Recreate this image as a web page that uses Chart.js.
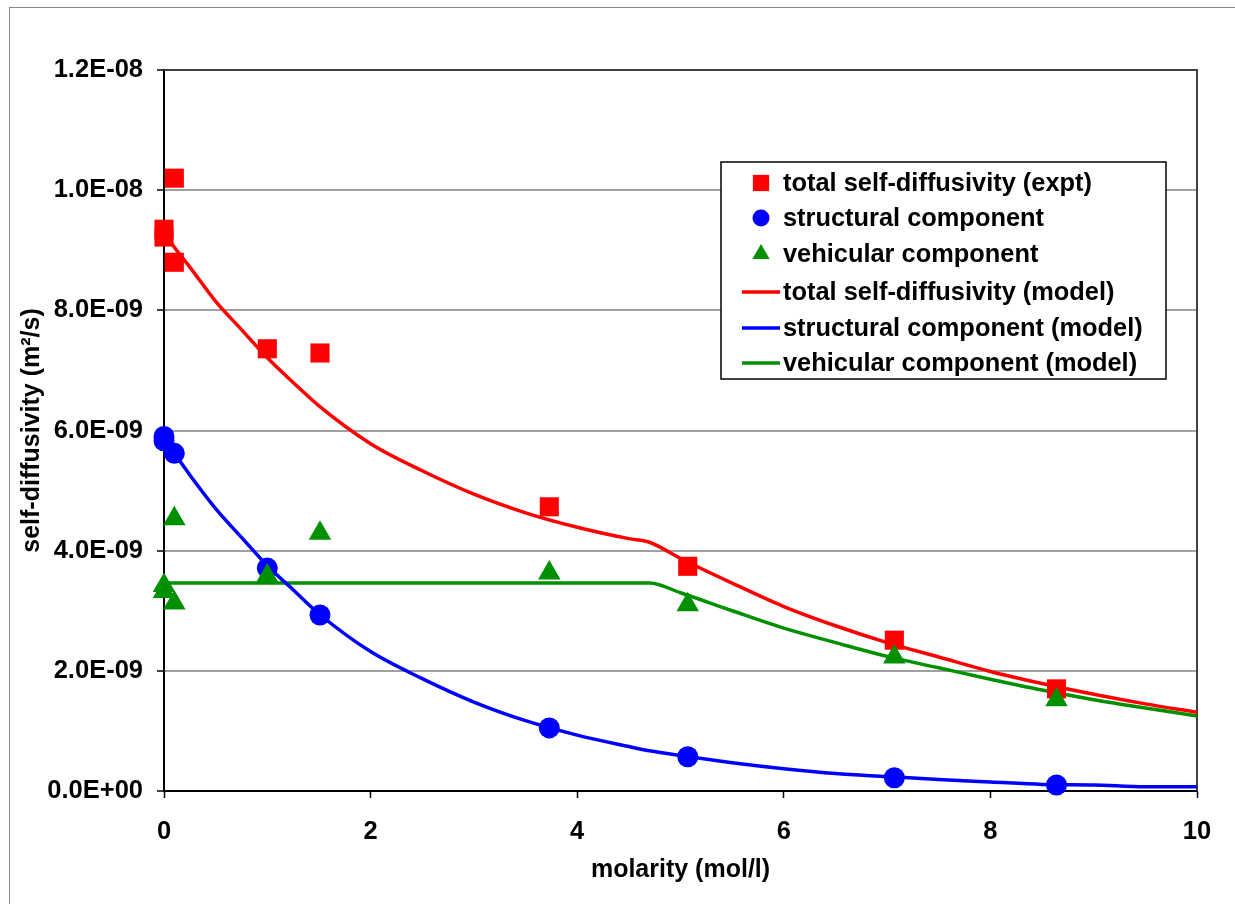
<!DOCTYPE html>
<html>
<head>
<meta charset="utf-8">
<title>self-diffusivity vs molarity</title>
<script src="https://cdn.jsdelivr.net/npm/chart.js@4.4.1/dist/chart.umd.min.js"></script>
<style>
  html, body { margin: 0; padding: 0; background: #fff; }
  canvas { display: block; }
</style>
</head>
<body>
<canvas id="myChart" width="1235" height="904"></canvas>
<script>
// experimental points, molarity in mol/l, diffusivity in m2/s
let totalX = [0, 0, 0.1, 0.1, 1.0, 1.51, 3.73, 5.07, 7.07, 8.64];
let totalY = [9.35e-9, 9.22e-9, 10.2e-9, 8.8e-9, 7.36e-9, 7.29e-9, 4.73e-9, 3.74e-9, 2.51e-9, 1.70e-9];

let structX = [0, 0, 0.1, 1.0, 1.51, 3.73, 5.07, 7.07, 8.64];
let structY = [5.90e-9, 5.83e-9, 5.62e-9, 3.71e-9, 2.93e-9, 1.05e-9, 0.57e-9, 0.22e-9, 0.10e-9];

let vehX = [0, 0, 0.1, 0.1, 1.0, 1.51, 3.73, 5.07, 7.07, 8.64];
let vehY = [3.42e-9, 3.32e-9, 4.53e-9, 3.13e-9, 3.58e-9, 4.29e-9, 3.63e-9, 3.10e-9, 2.23e-9, 1.52e-9];

// model curves (values in 1E-09 m2/s)
let modelX = [0, 0.1, 0.25, 0.5, 0.75, 1, 1.25, 1.5, 2, 2.5, 3, 3.5, 4, 4.5, 4.7, 5, 5.5, 6, 6.5, 7, 7.5, 8, 8.5, 9, 9.5, 10];
let totalModel = [9.3, 9.05, 8.72, 8.15, 7.68, 7.21, 6.8, 6.41, 5.78, 5.33, 4.94, 4.63, 4.39, 4.2, 4.14, 3.87, 3.46, 3.07, 2.75, 2.47, 2.23, 1.99, 1.79, 1.61, 1.45, 1.31];
let structModel = [5.86, 5.62, 5.26, 4.7, 4.22, 3.75, 3.35, 2.95, 2.32, 1.87, 1.48, 1.17, 0.93, 0.74, 0.67, 0.59, 0.47, 0.37, 0.29, 0.24, 0.19, 0.15, 0.11, 0.10, 0.07, 0.07];
let vehModel = [3.46, 3.46, 3.46, 3.46, 3.46, 3.46, 3.46, 3.46, 3.46, 3.46, 3.46, 3.46, 3.46, 3.46, 3.46, 3.3, 3.0, 2.71, 2.47, 2.24, 2.05, 1.86, 1.68, 1.52, 1.38, 1.25];

let xTicks = [0, 2, 4, 6, 8, 10];
let yMax = 1.2e-8, yStep = 2e-9;

let legendLabels = ['total self-diffusivity (expt)', 'structural component', 'vehicular component',
  'total self-diffusivity (model)', 'structural component (model)', 'vehicular component (model)'];

const RED = '#ff0000', BLUE = '#0000ff', GREEN = '#009000';
const FONT = '"Liberation Sans", Arial, sans-serif';

function pts(xs, ys, scale) {
  return xs.map((x, i) => ({ x: x, y: ys[i] * (scale || 1) }));
}

function fmtE(v) {
  let parts = Number(v).toExponential(1).split('e');
  let n = parseInt(parts[1], 10);
  return parts[0] + 'E' + (n < 0 ? '-' : '+') + String(Math.abs(n)).padStart(2, '0');
}

function drawMarker(ctx, style, x, y, r, color) {
  ctx.fillStyle = color;
  ctx.beginPath();
  if (style === 'rect') {
    let s = r * Math.SQRT1_2;
    ctx.rect(x - s, y - s, 2 * s, 2 * s);
  } else if (style === 'circle') {
    ctx.arc(x, y, r, 0, Math.PI * 2);
  } else {
    ctx.moveTo(x, y - r);
    ctx.lineTo(x + r * 0.866, y + r / 2);
    ctx.lineTo(x - r * 0.866, y + r / 2);
    ctx.closePath();
  }
  ctx.fill();
}

const framePlugin = {
  id: 'frame',
  beforeDraw(chart) {
    let ctx = chart.ctx;
    ctx.save();
    ctx.strokeStyle = '#8a8a8a';
    ctx.lineWidth = 1;
    ctx.strokeRect(9.5, 7.5, 1300, 1000);
    ctx.restore();
  },
  beforeDatasetsDraw(chart) {
    let a = chart.chartArea, ctx = chart.ctx;
    ctx.save();
    ctx.strokeStyle = '#404040';
    ctx.lineWidth = 2;
    ctx.beginPath();
    ctx.moveTo(a.left, a.top);
    ctx.lineTo(a.right, a.top);
    ctx.lineTo(a.right, a.bottom);
    ctx.stroke();
    ctx.restore();
  },
  afterDraw(chart) {
    let ctx = chart.ctx;
    let bx = 721, by = 162, bw = 445, bh = 217;
    ctx.save();
    ctx.fillStyle = '#fff';
    ctx.fillRect(bx, by, bw, bh);
    ctx.strokeStyle = '#000';
    ctx.lineWidth = 1.5;
    ctx.strokeRect(bx, by, bw, bh);
    let rows = [183, 218, 254, 292, 328, 363];
    let styles = ['rect', 'circle', 'triangle'];
    let colors = [RED, BLUE, GREEN, RED, BLUE, GREEN];
    ctx.font = 'bold 25.4px ' + FONT;
    ctx.textBaseline = 'middle';
    ctx.textAlign = 'left';
    legendLabels.forEach((t, i) => {
      let y = rows[i];
      if (i < 3) {
        drawMarker(ctx, styles[i], 761, y, i === 0 ? 11.5 : (i === 1 ? 8.5 : 10), colors[i]);
      } else {
        ctx.strokeStyle = colors[i];
        ctx.lineWidth = 3.5;
        ctx.beginPath();
        ctx.moveTo(742, y);
        ctx.lineTo(780, y);
        ctx.stroke();
      }
      ctx.fillStyle = '#000';
      ctx.fillText(t, 783, y + 1);
    });
    ctx.restore();
  }
};

const tickFont = { family: FONT, size: 25.5, weight: 'bold' };
const titleFont = { family: FONT, size: 25, weight: 'bold' };

new Chart(document.getElementById('myChart').getContext('2d'), {
  type: 'scatter',
  data: {
    datasets: [
      { label: legendLabels[2], data: pts(vehX, vehY), pointStyle: 'triangle', pointRadius: 13,
        backgroundColor: GREEN, borderColor: GREEN, borderWidth: 0, showLine: false, clip: false },
      { label: legendLabels[1], data: pts(structX, structY), pointStyle: 'circle', pointRadius: 10.5,
        backgroundColor: BLUE, borderColor: BLUE, borderWidth: 0, showLine: false, clip: false },
      { label: legendLabels[0], data: pts(totalX, totalY), pointStyle: 'rect', pointRadius: 13.5,
        backgroundColor: RED, borderColor: RED, borderWidth: 0, showLine: false, clip: false },
      { label: legendLabels[3], data: pts(modelX, totalModel, 1e-9), showLine: true, pointRadius: 0,
        borderColor: RED, borderWidth: 3.5, cubicInterpolationMode: 'monotone', fill: false },
      { label: legendLabels[4], data: pts(modelX, structModel, 1e-9), showLine: true, pointRadius: 0,
        borderColor: BLUE, borderWidth: 3.5, cubicInterpolationMode: 'monotone', fill: false },
      { label: legendLabels[5], data: pts(modelX, vehModel, 1e-9), showLine: true, pointRadius: 0,
        borderColor: GREEN, borderWidth: 3.5, cubicInterpolationMode: 'monotone', fill: false }
    ]
  },
  options: {
    responsive: false,
    animation: false,
    layout: { padding: { left: 0, top: 70, right: 38, bottom: 0 } },
    plugins: {
      legend: { display: false },
      tooltip: { enabled: false }
    },
    scales: {
      x: {
        type: 'linear',
        min: 0, max: 10,
        afterBuildTicks: (s) => { s.ticks = xTicks.map(v => ({ value: v })); },
        afterFit: (s) => { s.height = 113; },
        ticks: { font: tickFont, color: '#000', padding: 19, maxRotation: 0 },
        grid: { drawOnChartArea: false, drawTicks: true, tickLength: 7, tickColor: '#000', tickWidth: 1.5 },
        border: { color: '#000', width: 2 },
        title: { display: true, text: 'molarity (mol/l)', color: '#000', font: titleFont, padding: { top: 0, bottom: 19 } }
      },
      y: {
        min: 0, max: yMax,
        ticks: { stepSize: yStep, font: tickFont, color: '#000', padding: 14, callback: (v) => fmtE(v) },
        afterFit: (s) => { s.width = 164; },
        grid: { color: '#a0a0a0', lineWidth: 2, tickLength: 7, tickColor: '#000', tickWidth: 1.5 },
        border: { color: '#000', width: 2 },
        title: { display: true, text: 'self-diffusivity (m²/s)', color: '#000', font: titleFont, padding: { top: 17, bottom: 0 } }
      }
    }
  },
  plugins: [framePlugin]
});
</script>
</body>
</html>
